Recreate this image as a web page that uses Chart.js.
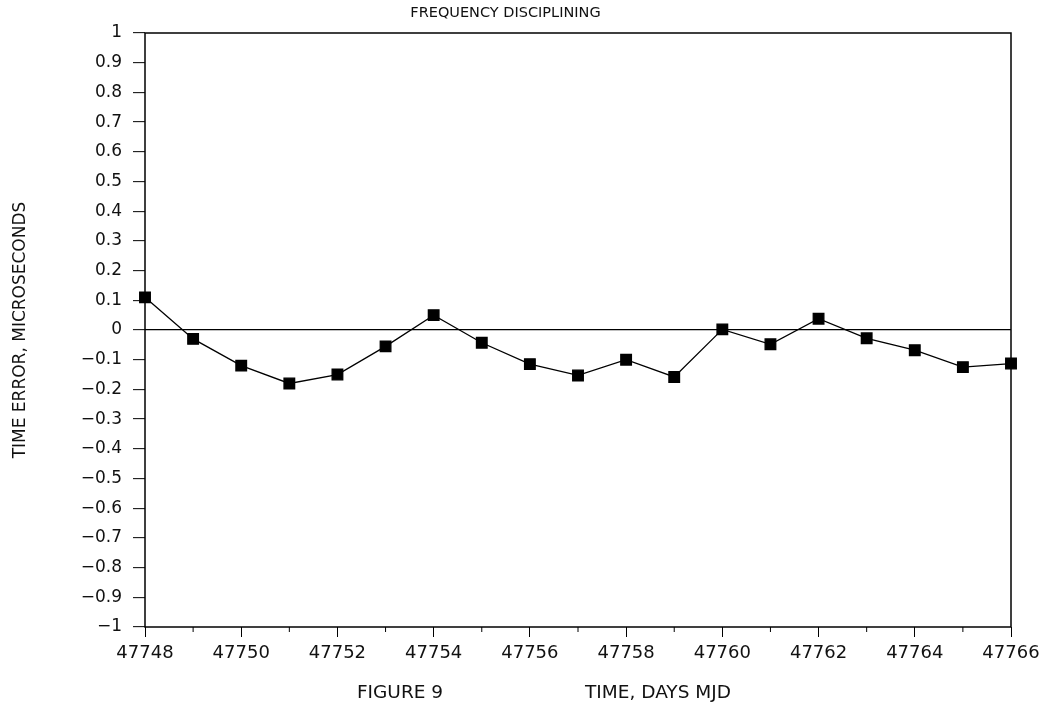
<!DOCTYPE html>
<html>
<head>
<meta charset="utf-8">
<script src="https://cdn.jsdelivr.net/npm/chart.js@4"></script>
<style>
html,body{margin:0;padding:0;background:#fff;}
#wrap{width:1048px;height:708px;position:relative;}
</style>
</head>
<body>
<div id="wrap"><canvas id="c" width="1048" height="708"></canvas></div>
<script>
const days = [47748,47749,47750,47751,47752,47753,47754,47755,47756,47757,47758,47759,47760,47761,47762,47763,47764,47765,47766];
const timeError = [0.11,-0.03,-0.12,-0.18,-0.15,-0.055,0.05,-0.043,-0.115,-0.153,-0.10,-0.158,0.002,-0.048,0.038,-0.028,-0.068,-0.125,-0.113];
const titleText = "FREQUENCY DISCIPLINING";
const xTitle = "TIME, DAYS MJD";
const figLabel = "FIGURE 9";
const yTitle = "TIME ERROR, MICROSECONDS";

const FONT = "'DejaVu Sans', sans-serif";

const decor = {
  id: 'decor',
  afterDraw(chart) {
    const {ctx, chartArea: a, scales: {x}} = chart;
    ctx.save();
    ctx.strokeStyle = '#000';
    ctx.lineWidth = 1.5;
    ctx.strokeRect(a.left, a.top, a.right - a.left, a.bottom - a.top);
    // minor ticks on odd days
    ctx.lineWidth = 1;
    for (let d = days[0]; d <= days[days.length-1]; d++) {
      if ((d - days[0]) % 2 === 1) {
        const px = x.getPixelForValue(d);
        ctx.beginPath();
        ctx.moveTo(px, a.bottom);
        ctx.lineTo(px, a.bottom + 5);
        ctx.stroke();
      }
    }
    ctx.fillStyle = '#111';
    ctx.font = "18.5px " + FONT;
    ctx.textAlign = 'center';
    ctx.textBaseline = 'middle';
    ctx.fillText(figLabel, 400, 693);
    ctx.fillText(xTitle, 658, 693);
    ctx.restore();
  }
};

new Chart(document.getElementById('c'), {
  type: 'line',
  data: {
    datasets: [{
      data: days.map((d, i) => ({x: d, y: timeError[i]})),
      borderColor: '#000',
      borderWidth: 1.3,
      backgroundColor: '#000',
      pointStyle: 'rect',
      pointRadius: 7.5,
      pointHoverRadius: 7.5,
      tension: 0,
      clip: false
    }]
  },
  options: {
    responsive: false,
    animation: false,
    layout: {padding: {left: 0, right: 37, top: 0, bottom: 0}},
    plugins: {
      legend: {display: false},
      tooltip: {enabled: false},
      title: {
        display: true,
        text: titleText,
        color: '#111',
        font: {family: FONT, size: 14.5, weight: 'normal'},
        padding: {top: 5, bottom: 10.6}
      }
    },
    scales: {
      x: {
        type: 'linear',
        min: days[0],
        max: days[days.length-1],
        afterFit(s) { s.height = 81; },
        ticks: {
          stepSize: 2,
          color: '#111',
          padding: 6,
          maxRotation: 0,
          font: {family: FONT, size: 18},
          callback: v => String(v)
        },
        grid: {
          drawOnChartArea: false,
          tickLength: 10,
          tickColor: '#000',
          tickWidth: 1
        },
        border: {display: false}
      },
      y: {
        min: -1,
        max: 1,
        afterFit(s) { s.width = 145; },
        ticks: {
          stepSize: 0.1,
          color: '#111',
          padding: 11,
          font: {family: FONT, size: 17},
          callback: v => {
            const r = Math.round(v * 10) / 10;
            if (r === 0) return '0';
            if (r === 1) return '1';
            if (r === -1) return '\u22121';
            return (r < 0 ? '\u2212' : '') + Math.abs(r).toFixed(1);
          }
        },
        grid: {
          color: c => (c.tick && Math.abs(c.tick.value) < 1e-9) ? '#000' : 'rgba(0,0,0,0)',
          lineWidth: 1.3,
          tickLength: 12,
          tickColor: '#000',
          tickWidth: 1
        },
        border: {display: false},
        title: {
          display: true,
          text: yTitle,
          color: '#111',
          font: {family: FONT, size: 17},
          padding: {top: 10, bottom: 0}
        }
      }
    }
  },
  plugins: [decor]
});
</script>
</body>
</html>
